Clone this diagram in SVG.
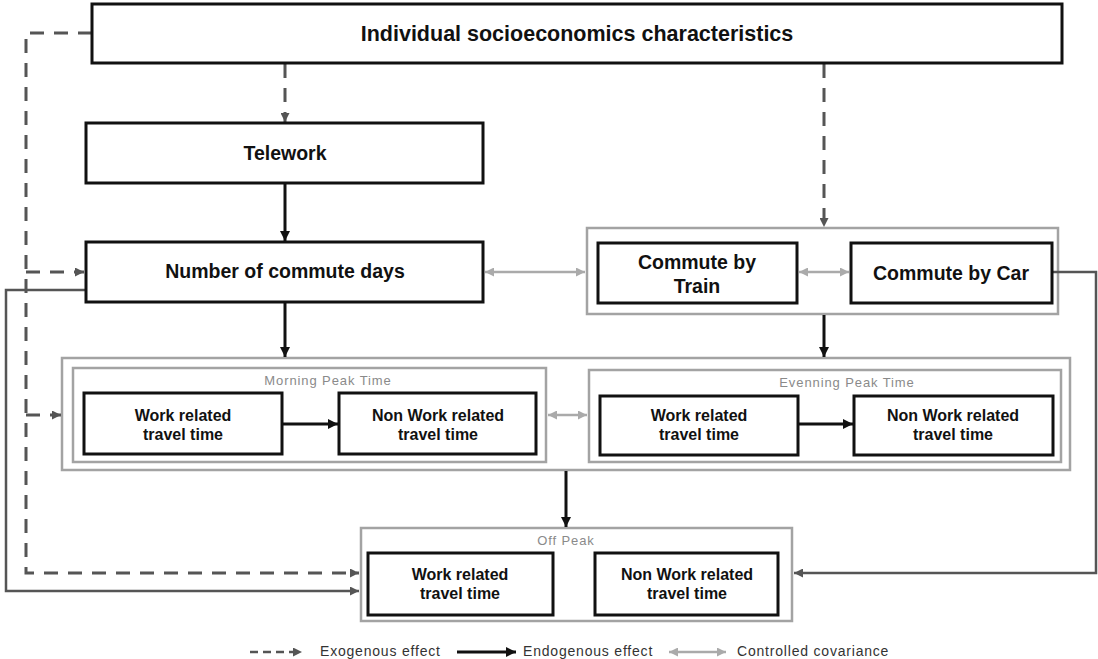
<svg xmlns="http://www.w3.org/2000/svg" width="1098" height="659" viewBox="0 0 1098 659">
<defs>
<style>
.node{fill:#fff;stroke:#111;stroke-width:3}
.grp{fill:none;stroke:#a3a3a3;stroke-width:2.5}
.big{font-family:"Liberation Sans",Arial,sans-serif;font-weight:bold;font-size:19.5px;fill:#111;text-anchor:middle}
.sm{font-family:"Liberation Sans",Arial,sans-serif;font-weight:bold;font-size:16px;fill:#111;text-anchor:middle}
.lab{font-family:"Liberation Sans",Arial,sans-serif;font-size:13px;letter-spacing:0.9px;fill:#8a8a8a;text-anchor:middle}
.leg{font-family:"Liberation Sans",Arial,sans-serif;font-size:14px;letter-spacing:0.8px;fill:#333}
.exo{fill:none;stroke:#555;stroke-width:3;stroke-dasharray:14 10}
.endo{fill:none;stroke:#111;stroke-width:3}
.line{fill:none;stroke:#555;stroke-width:2.5}
.cov{fill:none;stroke:#aaa;stroke-width:2.5}
</style>
<marker id="aDark" viewBox="0 0 10 10" refX="10" refY="5" markerWidth="10" markerHeight="9" markerUnits="userSpaceOnUse" orient="auto"><path d="M0,0 L10,5 L0,10 z" fill="#555"/></marker>
<marker id="aBlack" viewBox="0 0 10 10" refX="10" refY="5" markerWidth="12" markerHeight="10" markerUnits="userSpaceOnUse" orient="auto"><path d="M0,0 L10,5 L0,10 z" fill="#111"/></marker>
<marker id="aGray" viewBox="0 0 10 10" refX="10" refY="5" markerWidth="11" markerHeight="9" markerUnits="userSpaceOnUse" orient="auto-start-reverse"><path d="M0,0 L10,5 L0,10 z" fill="#aaa"/></marker>
</defs>
<rect width="1098" height="659" fill="#fff"/>

<g id="groups">
<rect id="commute-group" class="grp" x="587" y="228" width="471" height="86"/>
<rect id="peak-group" class="grp" x="62" y="358" width="1008" height="112"/>
<g id="morning-group"><rect class="grp" x="73" y="368" width="473" height="94"/><text class="lab" x="328" y="385">Morning Peak Time</text></g>
<g id="evening-group"><rect class="grp" x="589" y="370" width="472" height="92"/><text class="lab" x="847" y="387">Evenning Peak Time</text></g>
<g id="offpeak-group"><rect class="grp" x="361" y="528" width="431" height="93"/><text class="lab" x="566" y="545">Off Peak</text></g>
</g>

<g id="connectors">
<path class="exo" d="M92,33 H26 V573 H359" marker-end="url(#aDark)"/>
<path class="exo" d="M26,272 H84" marker-end="url(#aDark)"/>
<path class="exo" d="M26,415 H61" marker-end="url(#aDark)"/>
<path class="exo" d="M285,64 V122" marker-end="url(#aDark)"/>
<path class="exo" d="M824,64 V227" marker-end="url(#aDark)"/>
<path class="line" d="M86,290 H6 V591 H359" marker-end="url(#aDark)"/>
<path class="line" d="M1052,272 H1096 V573 H794" marker-end="url(#aDark)"/>
<path class="endo" d="M285,184 V241" marker-end="url(#aBlack)"/>
<path class="endo" d="M285,303 V357" marker-end="url(#aBlack)"/>
<path class="endo" d="M824,315 V357" marker-end="url(#aBlack)"/>
<path class="endo" d="M566,471 V527" marker-end="url(#aBlack)"/>
<path class="endo" d="M283,424 H338" marker-end="url(#aBlack)"/>
<path class="endo" d="M799,424 H853" marker-end="url(#aBlack)"/>
<path class="cov" d="M485,272 H585" marker-start="url(#aGray)" marker-end="url(#aGray)"/>
<path class="cov" d="M799,272 H849" marker-start="url(#aGray)" marker-end="url(#aGray)"/>
<path class="cov" d="M548,415 H587" marker-start="url(#aGray)" marker-end="url(#aGray)"/>
</g>

<g id="n-top"><rect class="node" x="92" y="4" width="970" height="59"/><text class="big" x="577" y="41" style="font-size:21.5px">Individual socioeconomics characteristics</text></g>
<g id="n-telework"><rect class="node" x="86" y="123" width="397" height="60"/><text class="big" x="285" y="160">Telework</text></g>
<g id="n-days"><rect class="node" x="86" y="242" width="397" height="60"/><text class="big" x="285" y="278">Number of commute days</text></g>
<g id="n-train"><rect class="node" x="598" y="243" width="199" height="60"/><text class="big" x="697" y="269">Commute by</text><text class="big" x="697" y="293">Train</text></g>
<g id="n-car"><rect class="node" x="851" y="243" width="201" height="60"/><text class="big" x="951" y="280">Commute by Car</text></g>
<g id="n-m-work"><rect class="node" x="84" y="393" width="198" height="61"/><text class="sm" x="183" y="421">Work related</text><text class="sm" x="183" y="440">travel time</text></g>
<g id="n-m-non"><rect class="node" x="339" y="393" width="197" height="61"/><text class="sm" x="438" y="421">Non Work related</text><text class="sm" x="438" y="440">travel time</text></g>
<g id="n-e-work"><rect class="node" x="600" y="396" width="198" height="59"/><text class="sm" x="699" y="421">Work related</text><text class="sm" x="699" y="440">travel time</text></g>
<g id="n-e-non"><rect class="node" x="854" y="396" width="199" height="59"/><text class="sm" x="953" y="421">Non Work related</text><text class="sm" x="953" y="440">travel time</text></g>
<g id="n-o-work"><rect class="node" x="368" y="553" width="185" height="62"/><text class="sm" x="460" y="580">Work related</text><text class="sm" x="460" y="599">travel time</text></g>
<g id="n-o-non"><rect class="node" x="595" y="553" width="183" height="62"/><text class="sm" x="687" y="580">Non Work related</text><text class="sm" x="687" y="599">travel time</text></g>

<g id="legend">
<path d="M250,652 H302" fill="none" stroke="#555" stroke-width="2.5" stroke-dasharray="8 5" marker-end="url(#aDark)"/>
<text class="leg" x="320" y="656">Exogenous effect</text>
<path d="M457,652 H516" fill="none" stroke="#111" stroke-width="3" marker-end="url(#aBlack)"/>
<text class="leg" x="523" y="656">Endogenous effect</text>
<path d="M669,652 H726" class="cov" marker-start="url(#aGray)" marker-end="url(#aGray)"/>
<text class="leg" x="737" y="656">Controlled covariance</text>
</g>
</svg>
